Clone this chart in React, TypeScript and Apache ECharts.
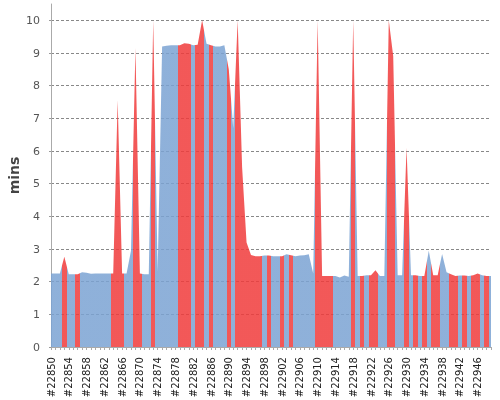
import React, { useEffect, useRef } from "react";
import * as echarts from "echarts";

// Build numbers on the x axis start here, one step per build
const FIRST_BUILD = 22850;
const LABEL_EVERY = 4;

// Build duration in minutes, one value per build (#22850 .. #22949)
const buildTimes = [
  2.25, 2.25, 2.25, 2.76, 2.23, 2.23, 2.23, 2.29, 2.27, 2.24,
  2.25, 2.25, 2.25, 2.25, 2.25, 7.55, 2.25, 2.25, 2.95, 9.15,
  2.25, 2.23, 2.23, 10.0, 2.3, 9.2, 9.22, 9.24, 9.24, 9.24,
  9.3, 9.28, 9.24, 9.25, 10.0, 9.28, 9.24, 9.2, 9.2, 9.24,
  8.5, 6.7, 10.0, 5.5, 3.2, 2.82, 2.78, 2.78, 2.8, 2.8,
  2.78, 2.78, 2.78, 2.84, 2.81, 2.78, 2.8, 2.81, 2.84, 2.25,
  10.0, 2.17, 2.17, 2.17, 2.17, 2.13, 2.19, 2.15, 10.0, 2.17,
  2.17, 2.2, 2.2, 2.35, 2.17, 2.17, 10.0, 8.9, 2.2, 2.2,
  6.1, 2.2, 2.2, 2.17, 2.17, 2.95, 2.2, 2.2, 2.85, 2.29,
  2.23, 2.17, 2.19, 2.19, 2.17, 2.2, 2.25, 2.2, 2.17, 2.17,
];

// Positions (build index) of failed builds, drawn in red
const failedBuilds = [
  3, 6, 14, 15, 16, 19, 20, 23, 29, 30, 31, 33, 34, 36, 40,
  42, 43, 44, 45, 46, 47, 49, 52, 54, 60, 61, 62, 63, 68, 70,
  72, 73, 76, 77, 80, 82, 84, 86, 87, 90, 91, 93, 95, 96, 98,
];

const Y_MIN = 0;
const Y_MAX = 10.5;
const Y_INTERVAL = 1;

const BLUE = "#7ba3d3";
const RED = "#f03b3b";
const FONT = "DejaVu Sans";

function buildPieces() {
  const pieces: any[] = [];
  let i = 0;
  while (i < failedBuilds.length) {
    let j = i;
    while (j + 1 < failedBuilds.length && failedBuilds[j + 1] === failedBuilds[j] + 1) j++;
    pieces.push({ gte: failedBuilds[i] - 0.5, lt: failedBuilds[j] + 0.5, color: RED });
    i = j + 1;
  }
  return pieces;
}

export default function App() {
  const ref = useRef<HTMLDivElement>(null);
  useEffect(() => {
    if (!ref.current) return;
    const chart = echarts.init(ref.current, undefined, { renderer: "svg" });
    const seriesData = buildTimes.map((v, i) => [i, v]);
    chart.setOption({
      animation: false,
      textStyle: { fontFamily: FONT },
      grid: {
        left: 51,
        right: 9,
        top: 4,
        bottom: 53,
        containLabel: false,
        outerBoundsMode: "none",
      },
      visualMap: {
        type: "piecewise",
        show: false,
        dimension: 0,
        pieces: buildPieces(),
        outOfRange: { color: BLUE },
      },
      xAxis: {
        type: "value",
        min: 0,
        max: buildTimes.length - 1,
        interval: 1,
        offset: 2,
        axisLine: { show: true, lineStyle: { color: "#aaa", width: 1 } },
        axisTick: { show: true, length: 3, lineStyle: { color: "#aaa" } },
        axisLabel: {
          rotate: 90,
          fontSize: 10,
          color: "#222",
          fontFamily: FONT,
          margin: 8,
          formatter: (v: number) =>
            v % LABEL_EVERY === 0 ? "#" + (FIRST_BUILD + v) : "",
        },
        splitLine: { show: false },
      },
      yAxis: {
        type: "value",
        min: Y_MIN,
        max: Y_MAX,
        interval: Y_INTERVAL,
        offset: 3,
        name: "mins",
        nameLocation: "middle",
        nameGap: 27,
        nameMoveOverlap: false,
        nameTextStyle: { fontSize: 14, fontWeight: "bold", color: "#444", fontFamily: FONT },
        axisLine: { show: true, lineStyle: { color: "#aaa", width: 1 } },
        axisTick: { show: true, length: 4, lineStyle: { color: "#999", type: [2, 2] } },
        axisLabel: { fontSize: 11, color: "#555", fontFamily: FONT, margin: 8, showMaxLabel: false },
        splitLine: {
          show: true,
          showMaxLine: false,
          lineStyle: { color: "#888", type: [3, 2], width: 1 },
        },
      },
      series: [
        {
          type: "line",
          data: seriesData,
          symbol: "none",
          showSymbol: false,
          silent: true,
          lineStyle: { width: 0, opacity: 0 },
          areaStyle: { opacity: 0.85 },
          emphasis: { disabled: true },
        },
      ],
    });
    return () => chart.dispose();
  }, []);
  return (
    <div
      ref={ref}
      style={{ position: "fixed", left: 0, top: 0, width: 500, height: 400 }}
    />
  );
}
